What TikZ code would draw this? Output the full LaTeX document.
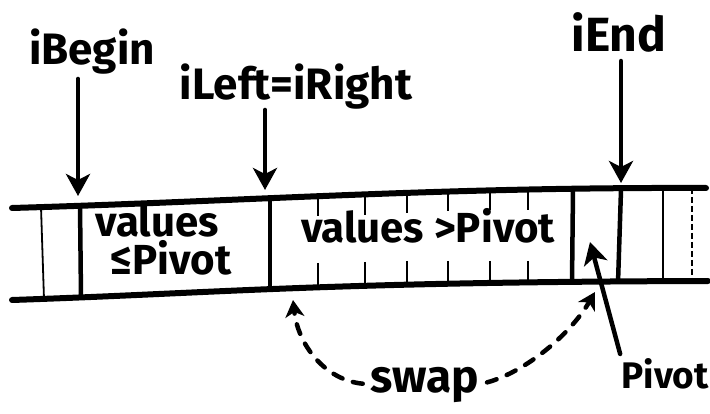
\documentclass[tikz,border=0pt]{standalone}
\usepackage{fontspec}
\setmainfont{Fira Sans}
\usetikzlibrary{arrows.meta}
\begin{document}
\begin{tikzpicture}[x=1pt,y=-1pt,
  hand/.style={font=\bfseries\fontsize{44}{44}\selectfont, inner sep=0pt, anchor=base},
  arr/.style={line width=4.5pt, line cap=round, -{Stealth[length=22pt,width=24pt,inset=6pt]}},
  bar/.style={line width=6pt, line cap=round},
  sepline/.style={line width=4.5pt},
  thinline/.style={line width=1.8pt},
  tickline/.style={line width=2.5pt},
  swapline/.style={line width=4.5pt, dash pattern=on 10pt off 11pt, line cap=round,
    -{Stealth[length=17pt,width=19pt,inset=5pt]}},
]
\useasboundingbox (0,0) rectangle (710,414);

% array outline
\draw[bar] (12,208) .. controls (250,201) and (440,187) .. (706,188);
\draw[bar] (12,300) .. controls (220,293) and (320,282) .. (708,281);

% cell separators
\draw[thinline] (41,207) -- (44,299);
\draw[sepline] (80,205) -- (81,297);
\draw[sepline] (270,198) -- (270,288);
\draw[sepline] (573,190) -- (572,283);
\draw[sepline] (621,190) -- (618,283);
\draw[thinline] (663,189) -- (663,282);
\draw[thinline, dash pattern=on 6pt off 3pt] (692,188) -- (692,282);
\foreach \x/\t/\b in {318/196/285, 365/195/284, 407/193/283, 448/191/283, 490/190/283, 528/190/283}{
  \draw[tickline] (\x,\t) -- (\x,\t+20);
  \draw[tickline] (\x,\b-22) -- (\x,\b);
}

% labels
\node[hand] (ibegin) at (92,65) {iBegin};
\node[hand] (ileft) at (296,100) {iLeft=iRight};
\node[hand, font=\bfseries\fontsize{48}{48}\selectfont] (iend) at (619,52) {iEnd};
\node[hand, font=\bfseries\fontsize{42}{42}\selectfont] (vle1) at (157,237) {values};
\node[hand, font=\bfseries\fontsize{42}{42}\selectfont] (vle2) at (171,275) {≤Pivot};
\node[hand, font=\bfseries\fontsize{42}{42}\selectfont] (vgt) at (428,243) {values >Pivot};
\node[hand, font=\bfseries\fontsize{46}{46}\selectfont] (swap) at (425,392) {swap};
\node[hand, font=\bfseries\fontsize{37}{37}\selectfont] (pivot) at (665,388) {Pivot};

% arrow targets
\coordinate (pB) at (78,196);
\coordinate (pL) at (265,190);
\coordinate (pE) at (621,183);
\coordinate (pP) at (590,242);
\coordinate (sL) at (293,300);
\coordinate (sR) at (595,292);

\draw[arr, shorten <=4pt] (ibegin.south -| pB) -- (pB);
\draw[arr] (ileft.south -| pL) -- (pL);
\draw[arr, shorten <=8pt] (iend.south -| pE) -- (pE);
\draw[arr, shorten <=4pt] (pivot.north west) -- (pP);

% swap
\draw[swapline, shorten <=8pt] (swap.west) .. controls (325,380) and (298,345) .. (sL);
\draw[swapline, shorten <=8pt] (swap.east) .. controls (525,372) and (570,335) .. (sR);
\end{tikzpicture}
\end{document}
